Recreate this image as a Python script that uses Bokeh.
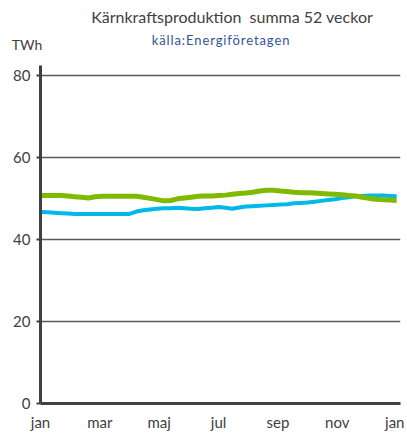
from bokeh.plotting import figure
from bokeh.layouts import column
from bokeh.models import FixedTicker, Range1d, Div
from bokeh.embed import file_html
from bokeh.resources import INLINE
import numpy as np

# month tick labels (x in months, 0 = jan)
month_ticks = [0, 2, 4, 6, 8, 10, 12]
month_labels = ["jan", "mar", "maj", "jul", "sep", "nov", "jan"]
y_ticks = [0, 20, 40, 60, 80]

# rolling 52-week sum, TWh (weekly points)
green_series = [50.7, 50.7, 50.7, 50.7, 50.6, 50.4, 50.3, 50.1, 50.4, 50.5,
                50.5, 50.5, 50.5, 50.5, 50.5, 50.3, 50.0, 49.7, 49.4, 49.5,
                49.9, 50.1, 50.3, 50.5, 50.6, 50.6, 50.7, 50.8, 51.0, 51.2,
                51.3, 51.5, 51.8, 52.0, 52.0, 51.8, 51.7, 51.5, 51.4, 51.4,
                51.3, 51.2, 51.1, 51.0, 50.9, 50.7, 50.6, 50.3, 50.0, 49.8,
                49.7, 49.6, 49.5]
blue_series = [46.7, 46.6, 46.5, 46.4, 46.3, 46.2, 46.2, 46.2, 46.2, 46.2,
               46.2, 46.2, 46.2, 46.2, 46.8, 47.1, 47.3, 47.5, 47.6, 47.6,
               47.7, 47.6, 47.5, 47.4, 47.6, 47.7, 47.9, 47.7, 47.5, 47.8,
               48.0, 48.1, 48.2, 48.3, 48.4, 48.5, 48.6, 48.8, 48.9, 49.0,
               49.2, 49.4, 49.6, 49.8, 50.1, 50.3, 50.5, 50.6, 50.7, 50.7,
               50.7, 50.6, 50.5]

title_text = "Kärnkraftsproduktion  summa 52 veckor"
source_text = "källa:Energiföretagen"
unit_text = "TWh"

weeks = np.arange(len(green_series))
x_months = weeks * 12 / 52

FONT = "Lato"
TXT = "#404040"
W = 404
HEAD = 57

# ---- header with title texts ----
def abs_text(txt, left, top, size, color, extra=""):
    return ('<div style="position:absolute;left:%dpx;top:%dpx;'
            'transform:translate(-50%%,-50%%);white-space:pre;font-family:%s;'
            'font-size:%dpx;line-height:1;color:%s;%s">%s</div>'
            % (left, top, FONT, size, color, extra, txt))

head_html = ('<div style="position:relative;width:%dpx;height:%dpx;">' % (W, HEAD)
             + abs_text(title_text, 232, 17, 16, TXT)
             + abs_text(source_text, 221, 40, 13, "#2F5597", "letter-spacing:0.9px;")
             + abs_text(unit_text, 27, 45, 14, TXT)
             + '</div>')
head = Div(text=head_html, width=W, height=HEAD, margin=(0, 0, 0, 0))

# ---- main chart ----
p = figure(frame_width=360, frame_height=338, output_backend="svg",
           toolbar_location=None,
           x_range=Range1d(0, 12.13), y_range=Range1d(0, 82.4),
           min_border_left=40, min_border_right=4, min_border_top=8,
           min_border_bottom=5)
p.outline_line_color = None

p.line(x_months, blue_series, line_color="#00B9E8", line_width=4)
p.line(x_months, green_series, line_color="#7FBA00", line_width=5)

p.xgrid.visible = False
p.ygrid.ticker = FixedTicker(ticks=y_ticks)
p.ygrid.grid_line_color = "#5a5a5a"
p.ygrid.grid_line_width = 1.3

p.yaxis.ticker = FixedTicker(ticks=y_ticks)
p.yaxis.axis_line_color = "#404040"
p.yaxis.axis_line_width = 3
p.yaxis.major_tick_line_color = "#404040"
p.yaxis.major_tick_line_width = 2
p.yaxis.major_tick_out = 4
p.yaxis.major_tick_in = 0
p.yaxis.minor_tick_line_color = None
p.yaxis.major_label_standoff = 6
p.yaxis.major_label_text_font = FONT
p.yaxis.major_label_text_font_size = "15px"
p.yaxis.major_label_text_color = TXT

p.xaxis.ticker = FixedTicker(ticks=month_ticks)
p.xaxis.major_label_overrides = {t: l for t, l in zip(month_ticks, month_labels)}
p.xaxis.axis_line_color = "#404040"
p.xaxis.axis_line_width = 3
p.xaxis.major_tick_line_color = None
p.xaxis.major_tick_out = 0
p.xaxis.major_tick_in = 0
p.xaxis.minor_tick_line_color = None
p.xaxis.major_label_standoff = 9
p.xaxis.major_label_text_font = FONT
p.xaxis.major_label_text_font_size = "15px"
p.xaxis.major_label_text_color = TXT

layout = column(head, p)
open("out.html", "w").write(file_html(layout, INLINE))
